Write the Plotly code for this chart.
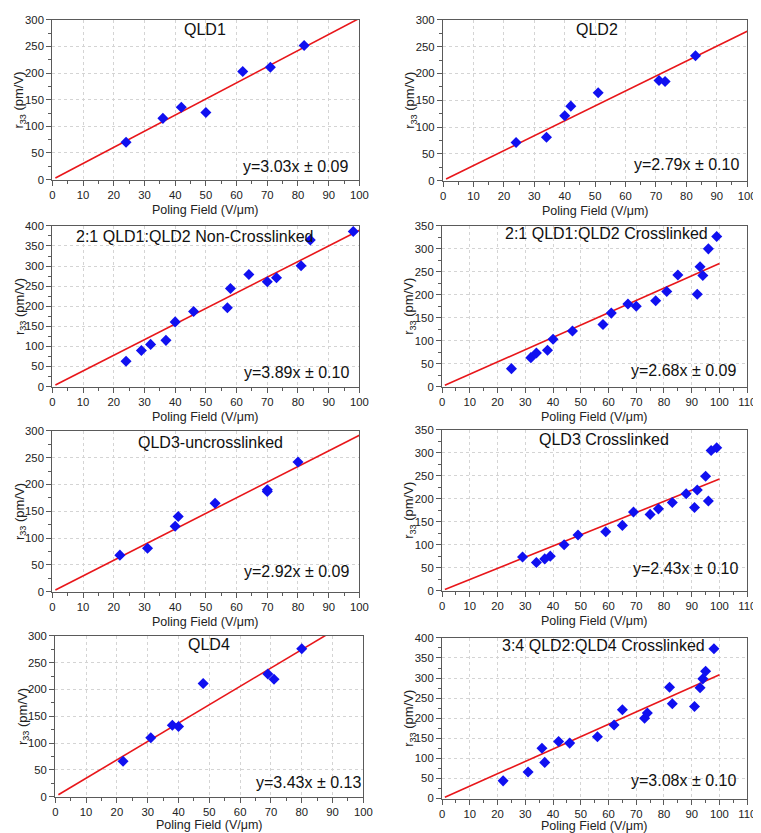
import plotly.graph_objects as go

W, H = 761, 833

# ---------------- data ----------------
titles = ["QLD1", "QLD2", "2:1 QLD1:QLD2 Non-Crosslinked", "2:1 QLD1:QLD2 Crosslinked",
          "QLD3-uncrosslinked", "QLD3 Crosslinked", "QLD4", "3:4 QLD2:QLD4 Crosslinked"]
slopes = [3.03, 2.79, 3.89, 2.68, 2.92, 2.43, 3.43, 3.08]
errors = ["0.09", "0.10", "0.10", "0.09", "0.09", "0.10", "0.13", "0.10"]

qld1_x = [24, 36, 42, 50, 62, 71, 82]
qld1_y = [70, 115, 136, 126, 203, 211, 252]

qld2_x = [24, 34, 40, 42, 51, 71, 73, 83]
qld2_y = [71, 81, 121, 139, 164, 187, 185, 233]

nc21_x = [24, 29, 32, 37, 40, 46, 57, 58, 64, 70, 73, 81, 84, 98]
nc21_y = [63, 90, 105, 115, 161, 187, 196, 244, 279, 261, 271, 301, 365, 386]

c21_x = [25, 32, 34, 38, 40, 47, 58, 61, 67, 70, 77, 81, 85, 92, 93, 94, 96, 99]
c21_y = [39, 63, 73, 79, 103, 121, 135, 160, 180, 175, 187, 207, 243, 201, 261, 242, 300, 327]

qld3u_x = [22, 31, 40, 41, 53, 70, 70, 80]
qld3u_y = [68, 81, 122, 140, 165, 187, 190, 242]

qld3c_x = [29, 34, 37, 39, 44, 49, 59, 65, 69, 75, 78, 83, 88, 91, 92, 95, 96, 97, 99]
qld3c_y = [73, 61, 69, 75, 100, 121, 128, 142, 171, 166, 178, 192, 211, 181, 219, 249, 195, 305, 311]

qld4_x = [22, 31, 38, 40, 48, 69, 71, 80]
qld4_y = [66, 110, 133, 131, 211, 229, 219, 276]

c34_x = [22, 31, 36, 37, 42, 46, 56, 62, 65, 73, 74, 82, 83, 91, 93, 94, 95, 98]
c34_y = [44, 66, 125, 90, 142, 138, 154, 183, 221, 200, 213, 277, 236, 229, 276, 298, 317, 373]

xs = [qld1_x, qld2_x, nc21_x, c21_x, qld3u_x, qld3c_x, qld4_x, c34_x]
ys = [qld1_y, qld2_y, nc21_y, c21_y, qld3u_y, qld3c_y, qld4_y, c34_y]

x_max = [100, 100, 100, 110, 100, 110, 100, 110]
y_max = [300, 300, 400, 350, 300, 350, 300, 400]
fit_x = [1, 100]

# ---------------- layout geometry (pixels) ----------------
boxes = [(42, 354, 6, 168), (439, 748, 6, 169),
         (42, 354, 215, 378), (438, 748, 215, 378),
         (42, 354, 423, 586), (438, 748, 422, 585),
         (45, 358, 631, 794), (438, 748, 633, 796)]
title_pos = [(197, 16), (595, 16), (186, 226), (605, 223),
             (203, 435), (602, 432), (201, 640), (602, 641)]
eq_pos = [(289, 155), (686, 153), (290, 364), (683, 362),
          (290, 566), (685, 563), (302, 780), (683, 778)]
xtitle_off = [31, 31, 31, 31, 31, 31, 29, 28]

FONT = "Arial, Liberation Sans, sans-serif"


def px(x):
    return x / W


def py(y):
    return 1 - y / H


fig = go.Figure()
annotations = []

for i in range(8):
    n = i + 1
    xa = "x" if n == 1 else f"x{n}"
    ya = "y" if n == 1 else f"y{n}"
    fig.add_trace(go.Scatter(
        x=fit_x, y=[slopes[i] * v for v in fit_x], mode="lines",
        line=dict(color="#e8161a", width=1.6), xaxis=xa, yaxis=ya,
        showlegend=False, hoverinfo="skip"))
    fig.add_trace(go.Scatter(
        x=xs[i], y=ys[i], mode="markers",
        marker=dict(symbol="diamond", size=8.5, color="#1010f0",
                    line=dict(width=0)),
        xaxis=xa, yaxis=ya, showlegend=False, cliponaxis=False))

    l, r, t, b = boxes[i]
    axkw = dict(showline=True, mirror=True, linecolor="#5a5a5a", linewidth=1.3,
                ticks="outside", ticklen=5, tickwidth=1, tickcolor="#5a5a5a",
                showgrid=True, gridcolor="#d4d4d4", griddash="dot", gridwidth=1,
                zeroline=False, tickfont=dict(family=FONT, size=11.3, color="#222"),
                ticklabeloverflow="allow", fixedrange=True)
    fig.layout[f"xaxis{'' if n == 1 else n}"] = dict(
        axkw, domain=[px(l), px(r)], range=[0, x_max[i]], dtick=10, tick0=0,
        anchor=ya, minor=dict(ticks="outside", ticklen=3, dtick=5,
                              tickcolor="#5a5a5a", showgrid=False))
    fig.layout[f"yaxis{'' if n == 1 else n}"] = dict(
        axkw, domain=[py(b), py(t)], range=[0, y_max[i]], dtick=50, tick0=0,
        anchor=xa, minor=dict(ticks="outside", ticklen=3, dtick=25,
                              tickcolor="#5a5a5a", showgrid=False))

    tx, tyy = title_pos[i]
    annotations.append(dict(text=titles[i], x=px(tx), y=py(tyy), xref="paper",
                            yref="paper", showarrow=False, xanchor="center",
                            yanchor="middle", font=dict(family=FONT, size=16, color="#111")))
    ex, ey = eq_pos[i]
    annotations.append(dict(text=f"y={slopes[i]:.2f}x ± {errors[i]}", x=px(ex), y=py(ey),
                            xref="paper", yref="paper", showarrow=False,
                            xanchor="center", yanchor="middle",
                            font=dict(family=FONT, size=16, color="#111")))
    # axis titles
    annotations.append(dict(text="Poling Field (V/μm)", x=px((l + r) / 2),
                            y=py(b + xtitle_off[i]),
                            xref="paper", yref="paper", showarrow=False,
                            xanchor="center", yanchor="middle",
                            font=dict(family=FONT, size=12.5, color="#222")))
    annotations.append(dict(text="r<sub>33</sub> (pm/V)", x=px(l - 33), y=py((t + b) / 2),
                            xref="paper", yref="paper", showarrow=False, textangle=-90,
                            xanchor="center", yanchor="middle",
                            font=dict(family=FONT, size=13, color="#222")))

fig.update_layout(width=W, height=H, margin=dict(l=0, r=0, t=0, b=0),
                  paper_bgcolor="white", plot_bgcolor="white",
                  annotations=annotations, font=dict(family=FONT))

fig.write_html("out.html")
